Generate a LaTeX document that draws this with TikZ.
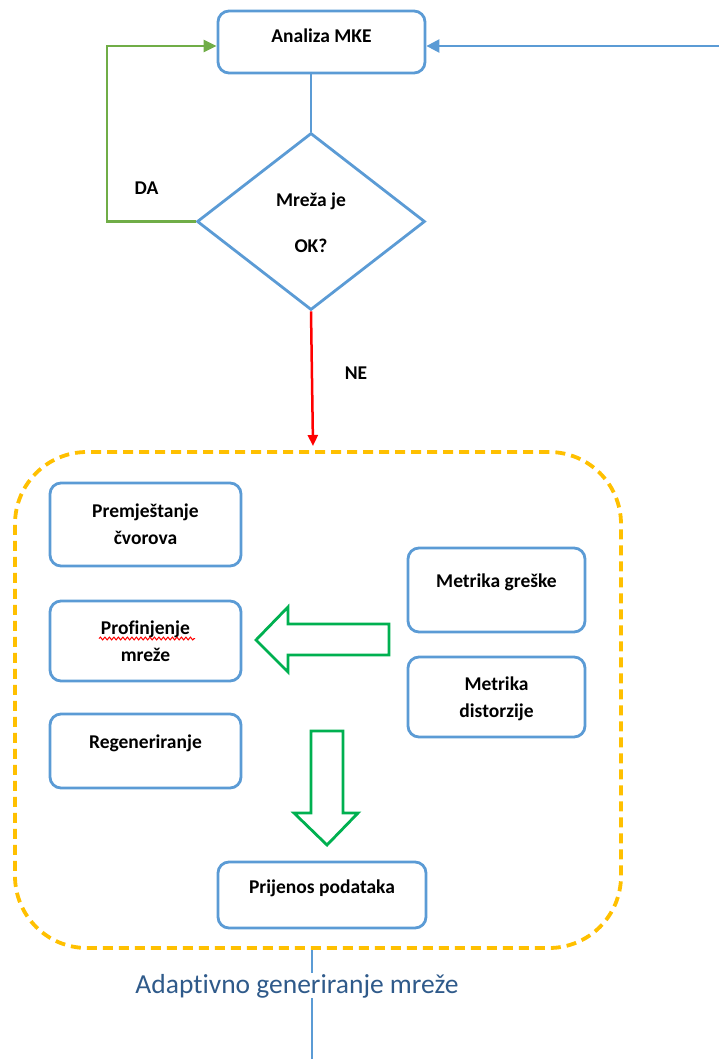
\documentclass[tikz,border=0pt]{standalone}
\usepackage{fontspec}
\setmainfont{Carlito}[Ligatures=NoCommon]
\usetikzlibrary{arrows.meta,shapes.geometric,decorations.pathmorphing}
\definecolor{boxblue}{HTML}{5B9BD5}
\definecolor{lgreen}{HTML}{70AD47}
\definecolor{bgreen}{HTML}{00B050}
\definecolor{gold}{HTML}{FFC000}
\definecolor{ttlblue}{HTML}{2F5A8A}
\begin{document}
\begin{tikzpicture}[x=1pt,y=-1pt,
  box/.style={draw=boxblue,line width=2.8pt,rounded corners=11pt,inner sep=0pt},
  txt/.style={anchor=base,inner sep=0pt,font=\bfseries\fontsize{19.5}{28}\selectfont,text=black},
  conn/.style={draw=boxblue,line width=2.5pt},
  blockarrow/.style={draw=bgreen,line width=2.8pt,line join=miter}]
\useasboundingbox (0,0) rectangle (719,1059);

% top part
\node[box,minimum width=207pt,minimum height=62pt] (mke) at (321.5,42) {};
\node[txt] (tmke) at (321.5,43) {Analiza MKE};
\node[draw=boxblue,line width=2.8pt,shape=diamond,inner sep=0pt,minimum width=228pt,minimum height=177pt] (dia) at (311,221.5) {};
\node[txt] (tdia1) at (311,207) {Mreža je};
\node[txt] (tdia2) at (311,252) {OK?};
\node[txt] (tda) at (146.5,195) {DA};
\node[txt] (tne) at (356,379) {NE};

\coordinate (rin) at (719,46);
\coordinate (gl) at (107,46);
\coordinate (redend) at (313,446);

\draw[conn,-{Triangle[length=13pt,width=13pt]}] (rin) -- (rin -| mke.east);
\draw[conn] (dia.north) -- (dia.north |- mke.south);
\draw[draw=lgreen,line width=2.5pt,-{Triangle[length=13pt,width=12pt]}] (dia.west) -| (gl) -- (gl -| mke.west);
\draw[draw=red,line width=2.5pt,-{Triangle[length=11pt,width=10pt]}] (dia.south) -- (redend);

% group
\node[draw=gold,line width=3.8pt,dash pattern=on 10pt off 6pt,rounded corners=72pt,inner sep=0pt,minimum width=606pt,minimum height=496pt] (grp) at (318,700) {};

\node[box,minimum width=191pt,minimum height=83pt] (pc) at (145.5,524.5) {};
\node[txt] at (145.5,517) {Premještanje};
\node[txt] at (145.5,544) {čvorova};

\node[box,minimum width=191pt,minimum height=80pt] (pm) at (145.5,641) {};
\node[txt] (tpm) at (145.5,634) {Profinjenje};
\node[txt] at (145.5,661) {mreže};
\draw[red,line width=1pt,decorate,decoration={snake,amplitude=1.4pt,segment length=4.5pt}] (99,638.5) -- (195,638.5);

\node[box,minimum width=191pt,minimum height=74pt] (rg) at (145.5,751) {};
\node[txt] at (145.5,748) {Regeneriranje};

\node[box,minimum width=177pt,minimum height=84pt] (mg) at (496.5,590) {};
\node[txt] at (496.5,587) {Metrika greške};

\node[box,minimum width=177pt,minimum height=80pt] (md) at (496.5,697) {};
\node[txt] at (496.5,690) {Metrika};
\node[txt] at (496.5,717) {distorzije};

\node[box,minimum width=208pt,minimum height=66pt] (pp) at (322,895) {};
\node[txt] at (322,893) {Prijenos podataka};

% block arrows
\draw[blockarrow] (389,624) -- (288,624) -- (288,607) -- (256,640) -- (288,672) -- (288,655) -- (389,655) -- cycle;
\draw[blockarrow] (311,731) -- (343,731) -- (343,813) -- (358,813) -- (327,845) -- (294,813) -- (311,813) -- cycle;

% caption and bottom line
\node[anchor=base,inner sep=0pt,font=\fontsize{27.5}{30}\selectfont,text=ttlblue] (ttl) at (297,993) {Adaptivno generiranje mreže};
\coordinate (b1) at (312,973);
\coordinate (b2) at (312,998);
\coordinate (b3) at (312,1059);
\draw[conn] (grp.south -| b1) -- (b1);
\draw[conn] (b2) -- (b3);
\end{tikzpicture}
\end{document}
